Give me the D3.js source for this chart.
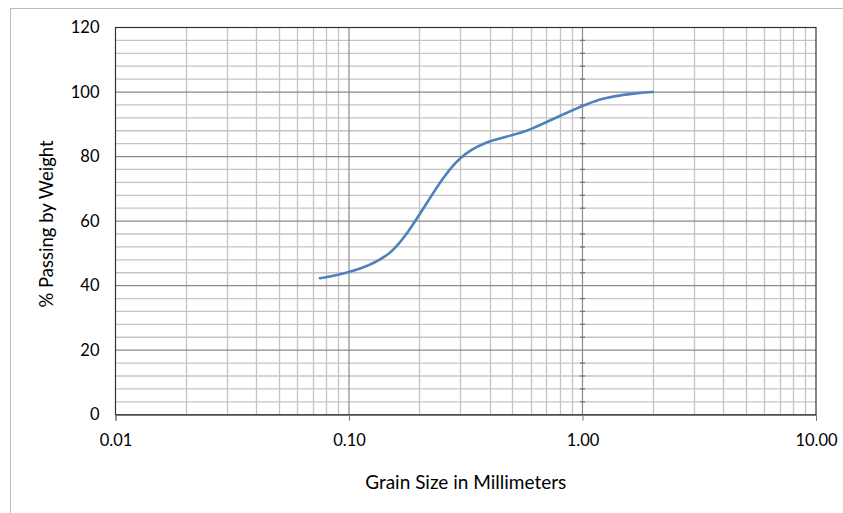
<!DOCTYPE html>
<html>
<head>
<meta charset="utf-8">
<script src="https://cdn.jsdelivr.net/npm/d3@7"></script>
<style>
  body { margin: 0; background: #fff; }
  svg { display: block; }
  text { font-family: Lato, "Open Sans", sans-serif; fill: #000; }
</style>
</head>
<body>
<div id="chart"></div>
<script>
// Sieve sizes (mm) and percent passing
const sizes = [0.075, 0.15, 0.3, 0.6, 1.18, 2.0];
const passing = [42.3, 50.3, 79.5, 88.5, 97.6, 100];

const xTicks = [0.01, 0.1, 1, 10];
const xTickLabels = ['0.01', '0.10', '1.00', '10.00'];
const yTicks = [0, 20, 40, 60, 80, 100, 120];

const width = 843, height = 513;
const plot = { left: 115.5, right: 816, top: 27.5, bottom: 414.7 };

const svg = d3.select('#chart').append('svg')
  .attr('width', width)
  .attr('height', height);

// outer chart frame
svg.append('rect')
  .attr('x', 10.5).attr('y', 8.5)
  .attr('width', 850).attr('height', 520)
  .attr('fill', 'none')
  .attr('stroke', '#bcbcbc');

const x = d3.scaleLog().domain([0.01, 10]).range([plot.left, plot.right]);
const y = d3.scaleLinear().domain([0, 120]).range([plot.bottom, plot.top]);

// minor vertical gridlines (2..9 in each decade)
const minorX = [];
[0.01, 0.1, 1].forEach(d => { for (let k = 2; k <= 9; k++) minorX.push(d * k); });
const minorY = d3.range(0, 121, 4).filter(v => v % 20 !== 0);

const grid = svg.append('g');
grid.selectAll('.vminor').data(minorX).enter().append('line')
  .attr('x1', d => Math.round(x(d)) + 0.5).attr('x2', d => Math.round(x(d)) + 0.5)
  .attr('y1', plot.top).attr('y2', plot.bottom)
  .attr('stroke', '#c4c4c4').attr('stroke-width', 1.3);
grid.selectAll('.hminor').data(minorY).enter().append('line')
  .attr('x1', plot.left).attr('x2', plot.right)
  .attr('y1', d => y(d)).attr('y2', d => y(d))
  .attr('stroke', '#c4c4c4').attr('stroke-width', 1.3);
grid.selectAll('.hmajor').data(yTicks.filter(v => v > 0 && v < 120)).enter().append('line')
  .attr('x1', plot.left).attr('x2', plot.right)
  .attr('y1', d => y(d)).attr('y2', d => y(d))
  .attr('stroke', '#8a8a8a').attr('stroke-width', 1.2);
grid.selectAll('.vmajor').data([0.1, 1]).enter().append('line')
  .attr('x1', d => x(d)).attr('x2', d => x(d))
  .attr('y1', plot.top).attr('y2', plot.bottom)
  .attr('stroke', '#8a8a8a').attr('stroke-width', 1.2);

// minor ticks on the value axis (crosses at 1.00)
grid.selectAll('.ytick').data(minorY).enter().append('line')
  .attr('x1', x(1) - 2.5).attr('x2', x(1) + 2.5)
  .attr('y1', d => y(d)).attr('y2', d => y(d))
  .attr('stroke', '#777').attr('stroke-width', 1.3);

// plot border
svg.append('rect')
  .attr('x', plot.left).attr('y', plot.top)
  .attr('width', plot.right - plot.left).attr('height', plot.bottom - plot.top)
  .attr('fill', 'none')
  .attr('stroke', '#333').attr('stroke-width', 1.2);

// x axis
const xAxis = svg.append('g')
  .attr('transform', `translate(0,${plot.bottom})`)
  .call(d3.axisBottom(x).tickValues(xTicks).tickSize(6).tickPadding(13.5)
    .tickFormat((d, i) => xTickLabels[i]));
xAxis.select('.domain').attr('stroke', '#555');
xAxis.selectAll('.tick line').attr('stroke', '#777');
xAxis.selectAll('text').attr('font-size', '16.5px').attr('fill', '#000')
  .attr('font-family', 'Lato, sans-serif');

// y axis labels (low position)
const yAxis = svg.append('g')
  .attr('transform', `translate(${plot.left},0)`)
  .call(d3.axisLeft(y).tickValues(yTicks).tickSize(0).tickPadding(16));
yAxis.select('.domain').remove();
yAxis.selectAll('text').attr('font-size', '16.5px').attr('fill', '#000')
  .attr('font-family', 'Lato, sans-serif');

// line
const line = d3.line()
  .x((d, i) => x(sizes[i]))
  .y(d => y(d))
  .curve(d3.curveCardinal.tension(0));

svg.append('path')
  .datum(passing)
  .attr('d', line)
  .attr('fill', 'none')
  .attr('stroke', '#4f81bd')
  .attr('stroke-width', 2.6)
  .attr('stroke-linecap', 'round');

// axis titles
svg.append('text')
  .attr('x', (plot.left + plot.right) / 2)
  .attr('y', 489)
  .attr('text-anchor', 'middle')
  .attr('font-size', '19px')
  .text('Grain Size in Millimeters');

svg.append('text')
  .attr('transform', 'translate(53,224) rotate(-90)')
  .attr('text-anchor', 'middle')
  .attr('font-size', '18.5px')
  .text('% Passing by Weight');
</script>
</body>
</html>
